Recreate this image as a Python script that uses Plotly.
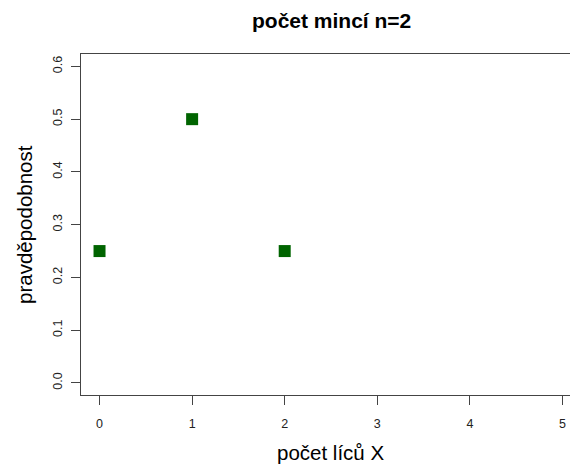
import plotly.graph_objects as go

x_vals = [0, 1, 2]
probs = [0.25, 0.5, 0.25]
x_ticks = [0, 1, 2, 3, 4, 5]
y_ticks = [0.0, 0.1, 0.2, 0.3, 0.4, 0.5, 0.6]
y_tick_text = ["0.0", "0.1", "0.2", "0.3", "0.4", "0.5", "0.6"]

font = "Liberation Sans, Arial, Helvetica, sans-serif"

fig = go.Figure()
fig.add_trace(go.Scatter(
    x=x_vals, y=probs, mode="markers",
    marker=dict(symbol="square", size=12, color="#006400", line=dict(width=0)),
    showlegend=False, hoverinfo="skip"))

fig.update_layout(
    width=570, height=464, autosize=False,
    margin=dict(l=81, r=0, t=54, b=69),
    paper_bgcolor="white", plot_bgcolor="white",
    font=dict(family=font, color="black"),
    xaxis=dict(range=[-0.2, 5.081], tickvals=x_ticks, ticktext=[str(v) for v in x_ticks],
               showgrid=False, zeroline=False, showline=True, mirror=True,
               linecolor="#444", linewidth=1, ticks="outside", ticklen=9,
               tickcolor="#444", ticklabelstandoff=8,
               tickfont=dict(size=12.5, color="#222")),
    yaxis=dict(range=[-0.0228, 0.6235], tickvals=y_ticks, ticktext=y_tick_text,
               showgrid=False, zeroline=False, showline=True, mirror=False,
               linecolor="#444", linewidth=1, ticks="outside", ticklen=9,
               tickcolor="#444", tickangle=-90, ticklabelstandoff=4,
               tickfont=dict(size=12.5, color="#222")),
    annotations=[
        dict(text="<b>počet mincí n=2</b>", xref="paper", yref="paper",
             x=(331 - 81) / 489, y=1 + (54 - 20) / 341, showarrow=False,
             font=dict(size=21, color="black"), xanchor="center", yanchor="middle"),
        dict(text="počet líců X", xref="paper", yref="paper",
             x=(330 - 81) / 489, y=-(452 - 395) / 341, showarrow=False,
             font=dict(size=20.5, color="black"), xanchor="center", yanchor="middle"),
        dict(text="pravděpodobnost", xref="paper", yref="paper",
             x=-(81 - 24) / 489, y=(395 - 225) / 341, showarrow=False, textangle=-90,
             font=dict(size=20.5, color="black"), xanchor="center", yanchor="middle"),
    ],
)

fig.write_html("out.html", config={"displayModeBar": False},
               post_script="document.body.style.margin='0';document.body.style.overflow='hidden';")
